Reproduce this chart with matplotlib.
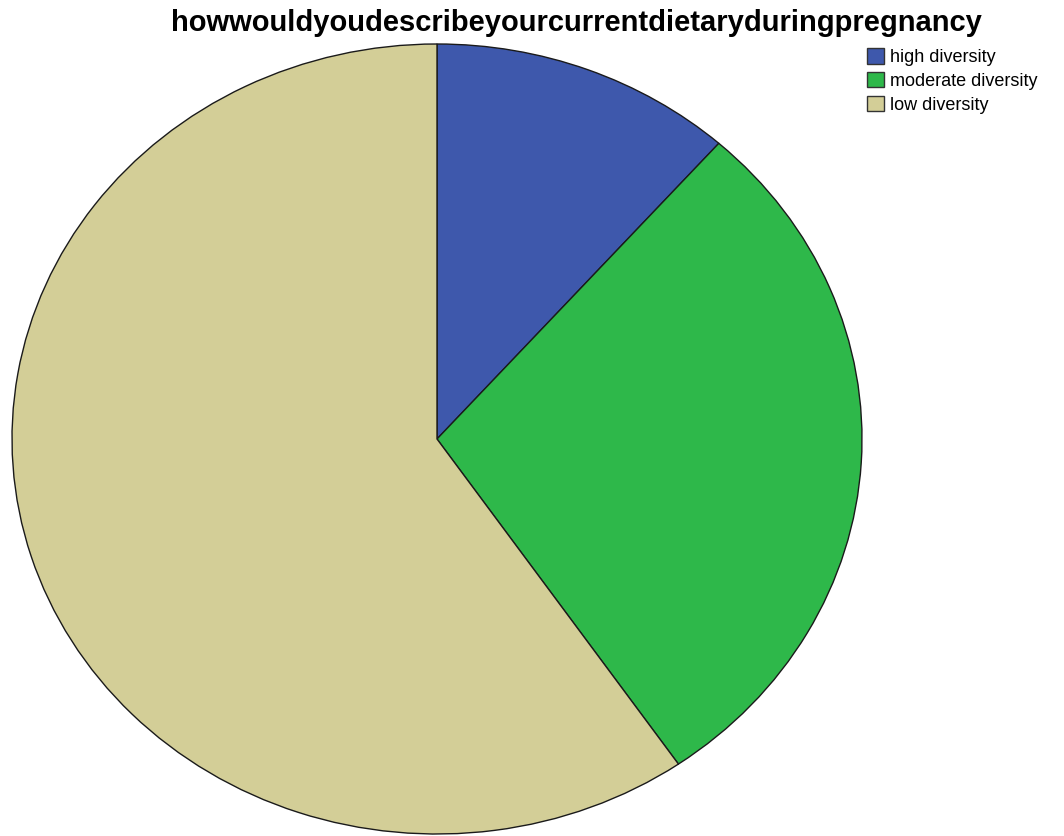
import matplotlib
matplotlib.use("Agg")
import matplotlib.pyplot as plt
from matplotlib.patches import Patch

categories = ["high diversity", "moderate diversity", "low diversity"]
counts = [6, 15, 31]
colors = ["#3E58AC", "#2EB84A", "#D3CE97"]
title = "howwouldyoudescribeyourcurrentdietaryduringpregnancy"

plt.rcParams['font.family'] = ['Liberation Sans', 'DejaVu Sans']
fig = plt.figure(figsize=(10.64, 8.36), dpi=100)
ax = fig.add_axes([12/1064, 2/836, 850/1064, 790/836])
ax.pie(counts, colors=colors, startangle=90, counterclock=False,
       wedgeprops=dict(edgecolor="#1a1a1a", linewidth=1.0), radius=1.0)
ax.set_aspect('auto')
ax.set_xlim(-1, 1)
ax.set_ylim(-1, 1)
ax.axis('off')

fig.text(576/1064, 1 - 31/836, title, ha='center', va='baseline',
         fontsize=21, fontweight='bold')

handles = [Patch(facecolor=c, edgecolor="#333333", linewidth=1.0) for c in colors]
leg = fig.legend(handles, categories, loc='upper left',
                 bbox_to_anchor=(867/1064, 1 - 48/836), frameon=False,
                 fontsize=13, handlelength=0.95, handleheight=0.95,
                 handletextpad=0.3, labelspacing=0.32, borderpad=0,
                 borderaxespad=0)
fig.savefig("out.png", dpi=100)
